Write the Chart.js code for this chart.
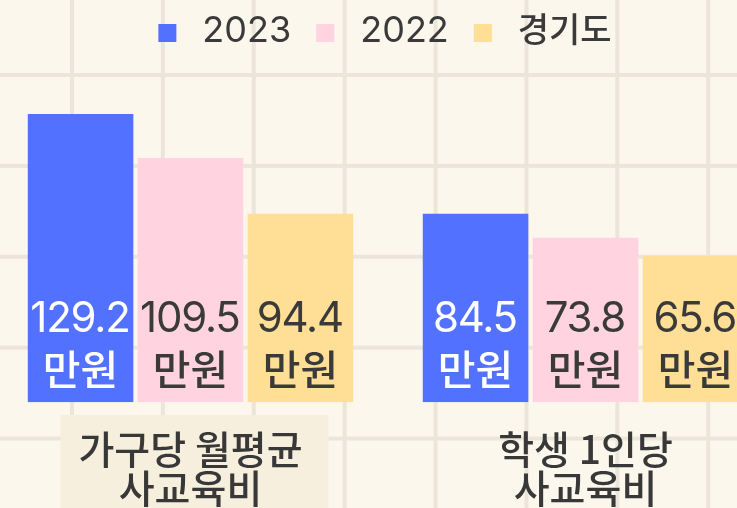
<!DOCTYPE html>
<html><head><meta charset="utf-8">
<script src="https://cdn.jsdelivr.net/npm/chart.js@4/dist/chart.umd.min.js"></script>
<style>
html,body{margin:0;padding:0;width:737px;height:508px;overflow:hidden;}
body{position:relative;background-color:#fbf7ec;
background-image:linear-gradient(to right,#ebe6d9 0,#ebe6d9 4px,transparent 4px),linear-gradient(to bottom,#ebe6d9 0,#ebe6d9 4px,transparent 4px);
background-size:90.9px 90.9px;background-position:70px 73px;}
#wrap{position:absolute;left:-7px;top:0;width:790px;height:535px;}
</style></head><body>
<div id="wrap"><canvas id="c"></canvas></div>
<script>
// ---- data ----
const categories = [['가구당 월평균', '사교육비'], ['학생 1인당', '사교육비']];
const seriesNames = ['2023', '2022', '경기도'];
const values2023 = [129.2, 84.5];
const values2022 = [109.5, 73.8];
const valuesGyeonggi = [84.5, 65.6];      // bar heights as drawn in the picture
const labels2023 = ['129.2', '84.5'];
const labels2022 = ['109.5', '73.8'];
const labelsGyeonggi = ['94.4', '65.6'];  // printed value labels
const unitLabel = '만원';

const FONT = "Inter, 'Noto Sans CJK KR', sans-serif";
const KFONT = "'Noto Sans CJK KR', sans-serif";
const colors = ['#5271ff', '#ffd3df', '#ffde96'];
const textColors = ['#ffffff', '#3a3a3a', '#3a3a3a'];
const valueLabels = [labels2023, labels2022, labelsGyeonggi];

const highlightBox = {
  id: 'highlightBox',
  beforeDraw(chart) {
    const ctx = chart.ctx, xs = chart.scales.x, ca = chart.chartArea;
    const cx = xs.getPixelForValue(0) + 4;
    ctx.save();
    ctx.fillStyle = '#f7efdd';
    ctx.fillRect(cx - 134, ca.bottom + 12.7, 268, chart.height);
    ctx.restore();
  }
};

const barLabels = {
  id: 'barLabels',
  afterDatasetsDraw(chart) {
    const ctx = chart.ctx;
    ctx.save();
    ctx.textAlign = 'center';
    ctx.textBaseline = 'alphabetic';
    chart.data.datasets.forEach((ds, di) => {
      const meta = chart.getDatasetMeta(di);
      meta.data.forEach((bar, i) => {
        ctx.fillStyle = textColors[di];
        ctx.font = '42px ' + FONT;
        try { ctx.letterSpacing = '-1.2px'; } catch (e) {}
        ctx.fillText(valueLabels[di][i], bar.x - 0.6, bar.base - 70.6);
        try { ctx.letterSpacing = '0px'; } catch (e) {}
        ctx.font = '500 41px ' + KFONT;
        ctx.fillText(unitLabel, bar.x, bar.base - 17);
      });
    });
    ctx.restore();
  }
};

const customLegend = {
  id: 'customLegend',
  afterDraw(chart) {
    const ctx = chart.ctx;
    ctx.save();
    ctx.textBaseline = 'alphabetic';
    ctx.textAlign = 'left';
    const fontFor = t => /[가-힣]/.test(t) ? '500 34px ' + KFONT : '36px ' + FONT;
    const box = 18, gapText = 26, gapItem = 25;
    const widths = chart.data.datasets.map(d => { ctx.font = fontFor(d.label); return ctx.measureText(d.label).width; });
    let total = 0;
    widths.forEach((w, i) => { total += box + gapText + w + (i < widths.length - 1 ? gapItem : 0); });
    let x = chart.width / 2 - 3 - total / 2;
    chart.data.datasets.forEach((d, i) => {
      ctx.fillStyle = d.backgroundColor;
      ctx.fillRect(x, 24, box, box);
      ctx.fillStyle = '#3a3a3a';
      ctx.font = fontFor(d.label);
      ctx.fillText(d.label, x + box + gapText, 42);
      x += box + gapText + widths[i] + gapItem;
    });
    ctx.restore();
  }
};

new Chart(document.getElementById('c'), {
  type: 'bar',
  data: {
    labels: categories,
    datasets: [
      { label: seriesNames[0], data: values2023, backgroundColor: colors[0] },
      { label: seriesNames[1], data: values2022, backgroundColor: colors[1] },
      { label: seriesNames[2], data: valuesGyeonggi, backgroundColor: colors[2] }
    ]
  },
  options: {
    responsive: true,
    maintainAspectRatio: false,
    animation: false,
    events: [],
    datasets: { bar: { categoryPercentage: 0.835, barPercentage: 0.96, borderWidth: 0 } },
    layout: { padding: { top: 61, bottom: 0, left: 0, right: 0 } },
    plugins: { legend: { display: false }, tooltip: { enabled: false } },
    scales: {
      x: {
        grid: { display: false, drawTicks: false },
        border: { display: false },
        ticks: { color: '#383838', padding: 27, font: { family: KFONT, size: 39, weight: '500', lineHeight: 1.01 } }
      },
      y: { display: false, min: 0, max: 153 }
    }
  },
  plugins: [highlightBox, barLabels, customLegend]
});
</script>
</body></html>
